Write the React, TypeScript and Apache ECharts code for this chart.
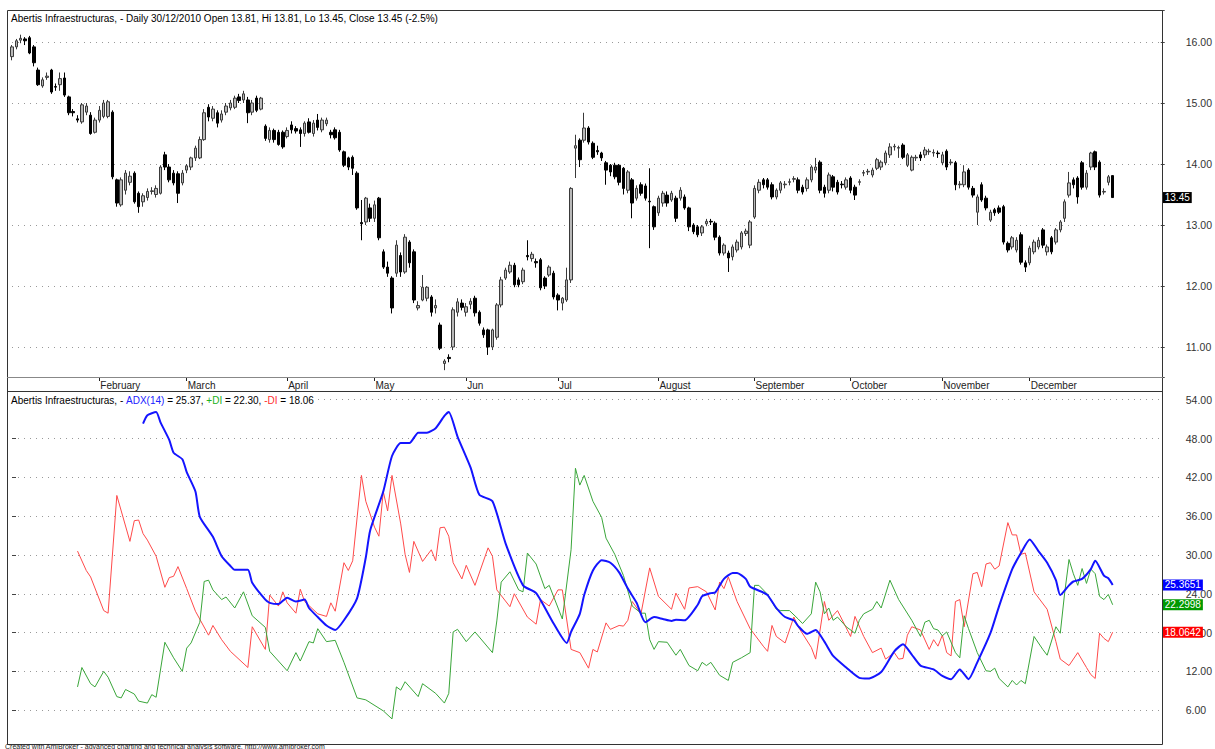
import React, { useEffect, useRef } from 'react';
import * as echarts from 'echarts';

const TITLE = 'Abertis Infraestructuras, - Daily 30/12/2010 Open 13.81, Hi 13.81, Lo 13.45, Close 13.45 (-2.5%)';
const FOOTER = 'Created with AmiBroker - advanced charting and technical analysis software. http://www.amibroker.com';
const SLOTS = 264;

const monthTicks: [number, string][] = [
  [20, 'February'], [40, 'March'], [63, 'April'], [83, 'May'], [104, 'Jun'], [125, 'Jul'],
  [148, 'August'], [170, 'September'], [192, 'October'], [213, 'November'], [233, 'December'],
];

// [open, close, low, high]
const ohlc: number[][] = [
  [15.76,15.92,15.70,15.95],[15.92,16.02,15.88,16.05],[16.03,16.06,15.98,16.12],[16.05,16.02,15.95,16.08],[16.07,15.82,15.80,16.10],[15.92,15.66,15.60,15.95],[15.54,15.30,15.28,15.58],[15.28,15.38,15.25,15.42],[15.42,15.44,15.38,15.50],[15.54,15.18,15.15,15.56],
  [15.27,15.26,15.20,15.32],[15.30,15.40,15.20,15.50],[15.41,15.13,15.10,15.50],[15.10,14.84,14.80,15.12],[14.86,14.84,14.78,14.90],[14.74,14.72,14.68,14.80],[14.69,14.97,14.66,15.00],[14.85,14.95,14.80,15.00],[14.80,14.50,14.48,14.85],[14.52,14.72,14.50,14.76],
  [14.72,14.88,14.68,14.95],[14.78,15.00,14.75,15.05],[14.78,15.02,14.75,15.05],[14.85,13.79,13.75,14.88],[13.74,13.36,13.30,13.76],[13.33,13.74,13.30,13.78],[13.57,13.85,13.50,13.90],[13.70,13.80,13.65,13.88],[13.85,13.38,13.35,13.88],[13.52,13.30,13.20,13.55],
  [13.38,13.48,13.30,13.52],[13.45,13.55,13.40,13.60],[13.55,13.56,13.50,13.62],[13.50,13.60,13.45,13.65],[13.52,13.95,13.50,13.98],[14.15,13.95,13.90,14.20],[13.95,13.74,13.70,14.00],[13.85,13.69,13.65,13.90],[13.84,13.52,13.36,13.88],[13.69,13.85,13.65,13.90],
  [13.90,13.97,13.85,14.00],[13.95,14.10,13.90,14.12],[14.10,14.26,14.05,14.30],[14.10,14.40,14.08,14.45],[14.40,14.84,14.38,14.90],[14.93,14.77,14.70,14.98],[14.75,14.90,14.70,14.95],[14.84,14.67,14.60,14.88],[14.72,14.82,14.68,14.88],[14.85,14.95,14.80,15.00],
  [14.92,15.00,14.88,15.05],[14.93,15.08,14.90,15.12],[15.10,15.04,15.00,15.15],[15.05,15.15,15.00,15.20],[15.05,14.84,14.67,15.10],[14.85,15.00,14.80,15.05],[15.08,14.88,14.85,15.12],[14.90,15.08,14.88,15.10],[14.62,14.42,14.38,14.65],[14.40,14.55,14.35,14.60],
  [14.55,14.40,14.35,14.58],[14.52,14.32,14.30,14.56],[14.52,14.28,14.25,14.55],[14.45,14.55,14.42,14.60],[14.64,14.56,14.50,14.70],[14.58,14.54,14.50,14.62],[14.56,14.50,14.28,14.60],[14.50,14.67,14.45,14.70],[14.69,14.52,14.50,14.75],[14.50,14.67,14.45,14.72],
  [14.72,14.60,14.55,14.82],[14.56,14.72,14.52,14.76],[14.66,14.72,14.62,14.76],[14.52,14.48,14.42,14.56],[14.56,14.43,14.40,14.60],[14.52,14.23,14.20,14.56],[14.20,13.98,13.95,14.22],[14.10,13.95,13.90,14.12],[14.11,13.93,13.82,14.14],[13.85,13.28,13.25,13.88],
  [13.04,13.02,12.75,13.41],[13.05,13.44,13.00,13.46],[13.28,13.11,13.05,13.35],[13.11,13.33,13.05,13.40],[13.44,12.79,12.75,13.46],[12.56,12.31,12.28,12.60],[12.31,12.21,12.15,12.40],[12.13,11.64,11.55,12.16],[12.21,12.67,12.15,12.75],[12.50,12.23,12.15,12.55],
  [12.23,12.80,12.20,12.85],[12.72,12.38,12.30,12.75],[12.56,11.77,11.72,12.60],[11.64,11.68,11.60,11.75],[11.77,11.98,11.75,12.18],[11.80,11.98,11.75,12.00],[11.82,11.57,11.50,11.85],[11.64,11.68,11.55,11.78],[11.36,10.98,10.95,11.40],[10.73,10.77,10.62,10.80],
  [10.83,10.81,10.75,10.88],[11.00,11.61,10.95,11.65],[11.57,11.74,11.50,11.80],[11.72,11.65,11.60,11.78],[11.57,11.66,11.50,11.72],[11.70,11.75,11.62,11.80],[11.80,11.56,11.50,11.84],[11.57,11.39,11.35,11.60],[11.28,11.20,11.15,11.32],[11.28,11.00,10.87,11.30],
  [11.00,11.28,10.95,11.30],[11.16,11.69,11.12,11.72],[11.69,12.10,11.65,12.15],[12.13,12.26,12.10,12.30],[12.23,12.34,12.20,12.40],[12.34,12.02,11.98,12.38],[12.10,12.02,11.98,12.14],[12.07,12.26,12.03,12.30],[12.50,12.48,12.42,12.75],[12.45,12.52,12.40,12.56],
  [12.40,12.38,12.30,12.45],[12.43,11.97,11.93,12.46],[12.13,12.00,11.95,12.16],[12.18,12.31,12.15,12.34],[12.21,11.82,11.78,12.25],[11.85,11.77,11.60,11.88],[11.72,11.80,11.60,11.82],[11.77,12.10,11.74,12.30],[12.10,13.60,12.05,13.62],[14.26,14.30,13.77,14.48],
  [14.39,14.07,13.95,14.42],[14.39,14.59,14.35,14.84],[14.59,14.36,14.32,14.62],[14.34,14.11,14.08,14.37],[14.22,14.20,14.15,14.30],[14.18,14.10,14.05,14.20],[14.02,13.90,13.66,14.05],[13.98,13.87,13.80,14.00],[13.98,13.79,13.75,14.02],[13.98,13.70,13.65,14.00],
  [13.93,13.60,13.50,13.95],[13.57,13.87,13.52,13.90],[13.74,13.36,13.11,13.77],[13.44,13.60,13.40,13.65],[13.66,13.52,13.48,13.70],[13.64,13.44,13.40,13.68],[13.39,13.38,12.62,13.93],[13.30,12.97,12.92,13.32],[13.20,13.44,13.15,13.48],[13.36,13.52,13.30,13.56],
  [13.49,13.36,13.30,13.55],[13.41,13.52,13.38,13.56],[13.44,13.11,13.05,13.48],[13.44,13.57,13.40,13.62],[13.46,13.28,13.25,13.50],[13.28,12.97,12.90,13.30],[13.00,12.89,12.85,13.03],[12.97,12.84,12.80,13.00],[12.87,12.97,12.82,13.00],[13.02,13.06,12.98,13.10],
  [13.06,13.05,13.00,13.10],[13.03,12.80,12.75,13.06],[12.80,12.54,12.50,12.83],[12.54,12.67,12.50,12.70],[12.54,12.46,12.23,12.58],[12.48,12.64,12.42,12.68],[12.59,12.72,12.55,12.76],[12.64,12.87,12.60,12.90],[12.86,12.90,12.82,12.94],[12.67,13.05,12.62,13.08],
  [13.13,13.60,13.10,13.65],[13.57,13.70,13.52,13.75],[13.74,13.66,13.60,13.77],[13.74,13.62,13.58,13.77],[13.66,13.46,13.42,13.70],[13.46,13.57,13.42,13.60],[13.57,13.69,13.52,13.72],[13.66,13.67,13.60,13.72],[13.70,13.71,13.65,13.76],[13.75,13.76,13.70,13.80],
  [13.74,13.57,13.52,13.78],[13.62,13.54,13.50,13.66],[13.60,13.74,13.55,13.78],[13.74,13.95,13.70,13.98],[13.90,13.95,13.85,14.10],[14.03,13.57,13.52,14.06],[13.62,13.52,13.45,13.66],[13.57,13.82,13.52,13.86],[13.79,13.62,13.55,13.82],[13.70,13.54,13.50,13.74],
  [13.67,13.66,13.60,13.72],[13.62,13.74,13.58,13.78],[13.77,13.57,13.52,13.80],[13.62,13.49,13.41,13.66],[13.70,13.71,13.65,13.75],[13.85,13.86,13.80,13.90],[13.87,13.88,13.82,13.92],[13.82,13.90,13.78,13.94],[13.93,14.07,13.90,14.10],[13.95,14.03,13.90,14.06],
  [14.02,14.18,13.98,14.22],[14.15,14.28,14.10,14.34],[14.28,14.29,14.22,14.33],[14.26,14.27,14.10,14.30],[14.31,14.11,14.08,14.34],[13.98,14.15,13.95,14.18],[13.90,14.11,13.88,14.14],[14.10,14.11,14.05,14.15],[14.15,14.10,14.05,14.20],[14.15,14.23,14.10,14.28],
  [14.20,14.21,14.15,14.25],[14.18,14.19,14.12,14.24],[14.18,14.17,14.10,14.22],[14.02,14.15,13.98,14.20],[14.21,13.95,13.90,14.24],[14.02,14.03,13.98,14.08],[14.02,13.66,13.57,14.05],[13.66,13.67,13.60,13.72],[13.66,13.87,13.62,13.98],[13.90,13.62,13.58,13.93],
  [13.60,13.49,13.45,13.64],[13.21,13.46,13.00,13.50],[13.66,13.41,13.38,13.70],[13.44,13.28,13.24,13.48],[13.08,13.21,13.05,13.25],[13.25,13.20,13.15,13.28],[13.28,13.21,13.18,13.32],[13.30,12.72,12.68,13.33],[12.70,12.59,12.55,12.73],[12.64,12.79,12.60,12.82],
  [12.59,12.75,12.55,12.80],[12.84,12.39,12.35,12.88],[12.38,12.31,12.23,12.42],[12.38,12.62,12.34,12.66],[12.56,12.72,12.52,12.76],[12.64,12.75,12.60,12.80],[12.92,12.67,12.62,12.95],[12.56,12.64,12.50,12.68],[12.79,12.56,12.52,12.82],[12.72,12.92,12.68,12.95],
  [12.92,13.05,12.88,13.08],[13.11,13.38,13.05,13.42],[13.49,13.69,13.45,13.87],[13.74,13.66,13.60,13.78],[13.77,13.46,13.35,13.80],[14.02,13.62,13.58,14.05],[13.62,13.85,13.58,13.90],[13.95,14.18,13.90,14.20],[14.20,13.95,13.90,14.22],[14.03,13.49,13.45,14.06],
  [13.54,13.55,13.50,13.60],[13.70,13.79,13.65,13.82],[13.81,13.45,13.45,13.81],
];

// [day index, value]
const minusDI: number[][] = [
  [15,30.6],[17,27.6],[18,26.6],[21,21.4],[22,21.0],[24,39.2],[27,32.1],[28,35.3],[29,35.4],[30,33.3],[31,32.3],[33,29.8],[35,25.0],[36,26.5],[37,26.7],[38,28.2],[40,24.8],[42,21.3],[45,17.6],[46,19.1],[48,16.9],[50,15.1],[54,12.6],[55,18.9],[58,15.4],[59,23.8],[61,22.1],[62,24.3],[63,22.6],[65,21.0],[66,24.7],[67,22.8],[70,20.9],[72,20.5],[73,22.6],[74,21.3],[76,28.8],[77,27.6],[78,29.1],[80,42.3],[81,38.3],[83,34.3],[84,32.9],[85,39.8],[86,36.8],[87,42.3],[89,34.8],[90,30.1],[91,27.3],[92,32.1],[94,29.0],[96,30.8],[97,29.1],[98,34.2],[99,34.3],[100,32.9],[101,28.8],[103,26.3],[104,28.4],[106,25.3],[109,31.1],[110,29.8],[111,24.6],[114,22.0],[115,24.0],[118,20.4],[120,19.3],[121,23.1],[123,22.1],[125,24.6],[126,24.6],[128,15.4],[130,14.9],[132,12.5],[133,15.4],[134,15.0],[136,19.5],[137,18.5],[139,19.1],[140,19.0],[141,19.9],[142,22.8],[144,20.9],[146,28.0],[148,23.6],[151,21.6],[152,24.1],[154,21.6],[155,24.9],[157,25.1],[159,24.3],[161,21.5],[162,25.8],[163,24.8],[164,26.6],[166,22.8],[169,18.6],[172,15.9],[173,15.1],[174,19.1],[175,17.4],[177,16.4],[179,20.4],[180,18.9],[183,15.7],[184,13.9],[186,22.8],[187,19.9],[189,21.4],[192,17.4],[193,20.5],[195,17.4],[197,14.9],[199,15.6],[200,13.9],[202,14.9],[203,13.9],[204,14.0],[205,17.6],[206,18.9],[208,18.4],[210,15.4],[211,16.9],[212,15.9],[213,17.6],[214,14.9],[215,14.4],[216,22.8],[217,23.1],[218,18.9],[220,27.1],[221,27.3],[222,25.1],[223,28.6],[224,28.8],[225,27.8],[226,28.3],[228,35.0],[229,33.1],[230,33.1],[231,30.1],[232,30.3],[234,24.3],[237,21.6],[239,16.6],[240,13.9],[242,12.9],[244,14.9],[246,12.6],[247,11.5],[248,10.9],[249,17.9],[250,17.1],[251,16.6],[252,18.06],
];

const plusDI: number[][] = [
  [15,9.6],[16,12.6],[18,10.1],[19,9.6],[21,12.0],[22,11.1],[24,8.1],[25,7.9],[26,9.2],[28,8.5],[29,7.4],[31,7.1],[32,8.4],[33,8.0],[35,16.5],[37,14.1],[39,12.0],[40,15.6],[41,16.4],[43,19.6],[44,25.9],[45,26.1],[46,24.6],[48,23.1],[49,23.5],[51,21.8],[53,24.3],[55,20.6],[58,18.8],[59,15.1],[63,12.1],[65,14.9],[66,13.6],[68,16.6],[69,16.4],[70,18.6],[72,16.6],[74,16.8],[76,13.4],[79,7.9],[81,7.6],[85,5.9],[87,4.65],[88,9.6],[89,9.1],[90,10.4],[93,8.1],[94,10.1],[97,8.6],[99,7.1],[100,8.6],[101,18.1],[102,18.5],[104,16.6],[106,18.1],[110,14.9],[111,19.8],[112,25.8],[114,27.4],[116,24.6],[117,24.3],[118,30.3],[120,28.6],[122,24.8],[123,25.3],[126,20.1],[128,30.8],[129,43.4],[130,40.8],[131,42.3],[133,38.3],[135,35.8],[136,32.6],[138,30.1],[140,26.8],[142,22.1],[144,21.0],[145,21.0],[146,16.9],[147,15.4],[148,16.6],[150,16.5],[152,14.5],[153,15.4],[155,12.9],[157,12.1],[158,13.4],[159,12.9],[160,13.4],[162,11.4],[164,10.6],[165,13.4],[167,14.1],[169,14.9],[170,25.3],[171,25.3],[173,23.9],[175,21.6],[176,21.4],[178,21.4],[180,20.1],[181,19.4],[183,20.9],[184,25.8],[185,24.3],[186,20.9],[187,21.8],[188,19.9],[189,20.4],[191,18.9],[193,17.9],[194,19.9],[195,20.9],[197,21.6],[198,22.8],[199,21.8],[201,26.1],[203,23.1],[206,19.9],[208,17.4],[209,19.6],[210,19.9],[211,18.6],[212,18.4],[213,17.5],[214,18.1],[216,14.9],[217,14.1],[218,20.6],[219,18.6],[221,14.9],[223,12.1],[224,12.0],[225,12.5],[226,10.9],[228,9.6],[229,10.6],[230,9.9],[231,10.6],[232,10.1],[234,17.4],[236,15.4],[237,14.5],[239,18.9],[240,17.9],[241,24.1],[242,29.3],[243,27.1],[244,25.3],[245,27.9],[246,25.6],[247,27.8],[248,27.1],[249,23.6],[250,23.1],[251,23.9],[252,22.3],
];

const adx: number[][] = [
  [30,50.3],[31,51.6],[33,52.1],[34,50.5],[36,47.8],[37,45.8],[39,44.8],[40,42.8],[42,39.8],[43,35.9],[46,32.8],[48,29.8],[50,28.3],[51,27.7],[54,27.7],[55,25.7],[58,23.1],[59,22.6],[61,22.4],[63,23.4],[65,22.8],[67,23.1],[68,21.8],[70,20.4],[72,19.1],[74,18.4],[76,19.9],[79,23.3],[81,29.6],[82,33.8],[85,39.8],[87,45.3],[89,47.3],[91,47.3],[93,48.9],[95,48.9],[97,49.6],[99,51.5],[100,52.1],[102,48.3],[105,43.5],[107,39.3],[110,38.3],[113,31.8],[117,25.3],[120,24.1],[124,19.4],[127,16.4],[128,18.1],[130,20.9],[131,23.8],[133,27.6],[135,29.2],[137,28.8],[139,27.3],[141,24.8],[143,22.6],[145,19.6],[147,20.4],[149,20.1],[151,19.8],[152,20.0],[154,19.9],[157,22.3],[158,23.6],[160,24.1],[161,24.2],[163,26.3],[165,27.2],[166,27.2],[168,26.3],[169,25.1],[172,24.2],[173,23.8],[175,21.8],[177,20.4],[179,19.9],[180,19.0],[182,17.8],[184,18.4],[186,16.6],[188,14.4],[191,12.6],[194,11.0],[196,10.9],[199,11.9],[202,15.1],[204,16.2],[206,14.6],[208,12.9],[211,12.3],[213,11.3],[215,10.8],[217,12.3],[219,10.8],[221,13.4],[224,17.9],[226,22.1],[229,27.8],[231,30.3],[233,32.4],[235,30.6],[237,28.8],[239,26.1],[240,23.8],[242,25.3],[243,25.9],[245,26.3],[247,27.8],[248,29.1],[250,26.8],[251,26.4],[252,25.37],
];

const lastClose = 13.45;
const adxLast = 25.3651;
const plusLast = 22.2998;
const minusLast = 18.0642;

const FONT = 'Arial, "Liberation Sans", sans-serif';

const categories: string[] = Array.from({ length: SLOTS }, (_, i) => {
  const m = monthTicks.find((t) => t[0] === i);
  return m ? m[1] : '';
});

function valueBox(v: number, bg: string, digits: number) {
  return {
    symbol: 'none',
    silent: true,
    animation: false,
    z: 10,
    lineStyle: { color: 'rgba(255,255,255,0)', width: 0.01, type: 'solid' },
    label: {
      show: true,
      position: 'end',
      distance: 2,
      formatter: v.toFixed(digits),
      backgroundColor: bg,
      color: '#ffffff',
      padding: [1, 2, 0, 2],
      fontSize: 10,
      fontFamily: FONT,
    },
    data: [{ yAxis: v }],
  };
}

export default function App() {
  const ref = useRef<HTMLDivElement>(null);
  useEffect(() => {
    if (!ref.current) return;
    const chart = echarts.init(ref.current, undefined, { renderer: 'svg' });
    const isMonth = (i: number) => categories[i] !== '';
    const option: any = {
      animation: false,
      backgroundColor: '#ffffff',
      textStyle: { fontFamily: FONT },
      grid: [
        { left: 12, width: 1151, top: 10, height: 367 },
        { left: 12, width: 1151, top: 391, height: 369 },
      ],
      xAxis: [
        {
          type: 'category', gridIndex: 0, data: categories, boundaryGap: false,
          axisLine: { show: false },
          axisTick: { show: true, interval: isMonth, length: 4, lineStyle: { color: '#222' } },
          axisLabel: { interval: isMonth, align: 'left', margin: 3, fontSize: 10, color: '#222', fontFamily: FONT, padding: [0, 0, 0, 1] },
          splitLine: { show: false },
        },
        { type: 'value', gridIndex: 1, min: 0, max: SLOTS - 1, show: false },
      ],
      yAxis: [
        {
          type: 'value', gridIndex: 0, position: 'right', min: 10.5082, max: 16.5246, splitNumber: 6,
          axisLine: { show: false },
          axisTick: { show: true, length: 4, lineStyle: { color: '#444' } },
          axisLabel: {
            margin: 25, fontSize: 10.5, color: '#333', fontFamily: FONT,
            formatter: (v: number) => (Math.abs(v - Math.round(v)) < 1e-6 ? v.toFixed(2) : ''),
          },
          splitLine: { show: true, showMinLine: false, showMaxLine: false, lineStyle: { color: '#999', type: [1, 5], width: 1 } },
        },
        {
          type: 'value', gridIndex: 1, position: 'right', min: 0, max: 55.35, interval: 6,
          axisLine: { show: false },
          axisTick: { show: true, length: 4, lineStyle: { color: '#444' } },
          axisLabel: {
            margin: 25, fontSize: 10.5, color: '#333', fontFamily: FONT,
            formatter: (v: number) => (v > 3 && Math.abs(v / 6 - Math.round(v / 6)) < 1e-6 ? v.toFixed(2) : ''),
          },
          splitLine: { show: true, showMinLine: false, showMaxLine: false, lineStyle: { color: '#999', type: [1, 5], width: 1 } },
        },
      ],
      series: [
        {
          type: 'candlestick', xAxisIndex: 0, yAxisIndex: 0, data: ohlc, barWidth: 3, clip: false,
          itemStyle: { color: '#b8b8b8', color0: '#000000', borderColor: '#3a3a3a', borderColor0: '#000000', borderWidth: 1 },
          markLine: valueBox(lastClose, '#000000', 2),
        },
        {
          type: 'line', xAxisIndex: 1, yAxisIndex: 1, data: minusDI, symbol: 'none',
          lineStyle: { color: '#ff4a4a', width: 1 },
          markLine: valueBox(minusLast, '#ff0000', 4),
        },
        {
          type: 'line', xAxisIndex: 1, yAxisIndex: 1, data: plusDI, symbol: 'none',
          lineStyle: { color: '#3aa63a', width: 1 },
          markLine: valueBox(plusLast, '#009900', 4),
        },
        {
          type: 'line', xAxisIndex: 1, yAxisIndex: 1, data: adx, symbol: 'none', smooth: 0.2,
          lineStyle: { color: '#1414ff', width: 2 },
          markLine: valueBox(adxLast, '#0000ff', 4),
        },
      ],
      graphic: [
        { type: 'rect', z: 100, shape: { x: 7.5, y: 10.5, width: 1155, height: 734 }, style: { fill: 'none', stroke: '#333', lineWidth: 1 } },
        { type: 'line', z: 100, shape: { x1: 7, y1: 377.5, x2: 1163, y2: 377.5 }, style: { stroke: '#888', lineWidth: 1 } },
        { type: 'line', z: 100, shape: { x1: 7, y1: 391.5, x2: 1163, y2: 391.5 }, style: { stroke: '#333', lineWidth: 1 } },
        { type: 'text', z: 100, x: 11, y: 18, style: { text: TITLE, fontSize: 10, fontFamily: FONT, fill: '#000', verticalAlign: 'middle' } },
        {
          type: 'text', z: 100, x: 11, y: 400,
          style: {
            text: '{k|Abertis Infraestructuras, - }{b|ADX(14)}{k| = 25.37, }{g|+DI}{k| = 22.30, }{r|-DI}{k| = 18.06}',
            verticalAlign: 'middle', backgroundColor: '#fff', padding: [0, 2, 0, 0],
            fontSize: 10, fontFamily: FONT,
            rich: {
              k: { fill: '#000', fontSize: 10, fontFamily: FONT },
              b: { fill: '#2020ff', fontSize: 10, fontFamily: FONT },
              g: { fill: '#20b020', fontSize: 10, fontFamily: FONT },
              r: { fill: '#ff3030', fontSize: 10, fontFamily: FONT },
            },
          },
        },
        { type: 'text', z: 100, x: 5, y: 743, style: { text: FOOTER, fontSize: 7, fontFamily: FONT, fill: '#222' } },
      ],
    };
    chart.setOption(option);
    return () => chart.dispose();
  }, []);
  return <div ref={ref} style={{ position: 'absolute', left: 0, top: 0, width: 1215, height: 749, background: '#fff' }} />;
}
